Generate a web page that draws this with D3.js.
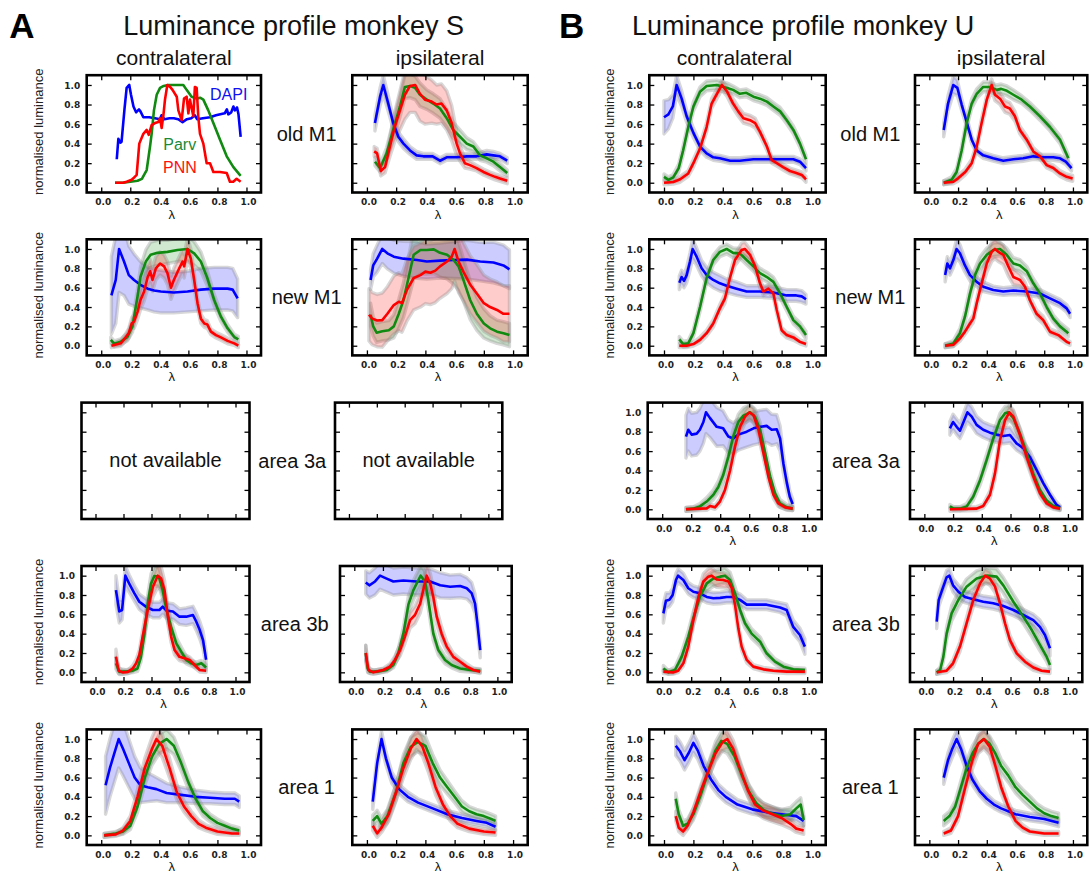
<!DOCTYPE html>
<html>
<head>
<meta charset="utf-8">
<script src="https://cdn.jsdelivr.net/npm/d3@7"></script>
<style>
  body { margin: 0; background: #fff; }
  svg { display: block; }
</style>
</head>
<body>
<svg id="fig" width="1090" height="873"></svg>
<script>
// ---------------------------------------------------------------------------
// Luminance profiles along the normalised cortical depth (lambda).
// Each point: [lambda, mean normalised luminance, spread of the band]
// ---------------------------------------------------------------------------

const channelNames = ["DAPI", "Parv", "PNN"];
const tickVals = [0, 0.2, 0.4, 0.6, 0.8, 1.0];
const tickText = ["0.0", "0.2", "0.4", "0.6", "0.8", "1.0"];
const rowNames = ["old M1", "new M1", "area 3a", "area 3b", "area 1"];
const sideNames = ["contralateral", "ipsilateral"];
const monkeyTitles = ["Luminance profile monkey S", "Luminance profile monkey U"];
const panelLetters = ["A", "B"];

// ---- monkey S, old M1 (single section, no spread) ----
const sOldM1ContraDapi = [[0.107,0.24],[0.118,0.45],[0.132,0.41],[0.14,0.42],[0.16,0.75],[0.175,0.97],[0.193,1.0],[0.205,0.9],[0.222,0.78],[0.24,0.72],[0.26,0.75],[0.27,0.73],[0.29,0.67],[0.33,0.67],[0.37,0.66],[0.405,0.65],[0.415,0.69],[0.435,0.65],[0.47,0.66],[0.5,0.66],[0.53,0.65],[0.56,0.62],[0.59,0.65],[0.62,0.66],[0.645,0.69],[0.66,0.65],[0.7,0.66],[0.75,0.67],[0.79,0.69],[0.82,0.7],[0.85,0.71],[0.865,0.75],[0.875,0.7],[0.895,0.72],[0.91,0.78],[0.92,0.74],[0.935,0.77],[0.945,0.7],[0.96,0.47]];
const sOldM1ContraParv = [[0.095,0.0],[0.15,0.0],[0.2,0.01],[0.25,0.02],[0.28,0.04],[0.313,0.13],[0.336,0.37],[0.347,0.5],[0.363,0.74],[0.382,0.9],[0.405,0.97],[0.43,0.99],[0.46,1.0],[0.52,1.0],[0.565,1.0],[0.588,0.95],[0.622,0.88],[0.657,0.86],[0.68,0.87],[0.703,0.85],[0.737,0.74],[0.772,0.61],[0.818,0.44],[0.864,0.27],[0.91,0.16],[0.96,0.07]];
const sOldM1ContraPnn = [[0.095,0.0],[0.15,0.0],[0.175,0.01],[0.21,0.03],[0.221,0.045],[0.244,0.08],[0.262,0.4],[0.29,0.5],[0.313,0.54],[0.327,0.49],[0.347,0.59],[0.37,0.61],[0.393,0.62],[0.405,0.66],[0.416,0.56],[0.428,0.69],[0.439,0.85],[0.455,1.0],[0.474,0.98],[0.491,0.95],[0.52,0.88],[0.531,0.74],[0.554,0.64],[0.57,0.86],[0.588,0.88],[0.6,0.71],[0.611,0.85],[0.634,0.68],[0.645,0.98],[0.657,0.97],[0.668,0.68],[0.68,0.5],[0.703,0.4],[0.726,0.2],[0.749,0.2],[0.772,0.11],[0.818,0.11],[0.864,0.1],[0.886,0.01],[0.909,0.01],[0.932,0.04],[0.96,0.01]];

const sOldM1IpsiDapi = [[0.055,0.61,0.08],[0.09,0.88,0.09],[0.112,1.0,0.1],[0.146,0.81,0.08],[0.18,0.61,0.06],[0.215,0.47,0.05],[0.25,0.4,0.05],[0.295,0.33,0.04],[0.34,0.28,0.04],[0.386,0.27,0.03],[0.45,0.27,0.03],[0.5,0.225,0.03],[0.546,0.26,0.03],[0.614,0.26,0.03],[0.683,0.27,0.03],[0.75,0.27,0.03],[0.82,0.29,0.04],[0.865,0.28,0.04],[0.91,0.27,0.03],[0.96,0.225,0.03]];
const sOldM1IpsiParv = [[0.055,0.215,0.04],[0.09,0.15,0.04],[0.135,0.3,0.06],[0.18,0.54,0.09],[0.226,0.78,0.11],[0.26,0.98,0.12],[0.295,0.99,0.12],[0.33,0.97,0.12],[0.363,0.9,0.12],[0.41,0.85,0.1],[0.454,0.81,0.1],[0.5,0.76,0.1],[0.546,0.66,0.09],[0.59,0.54,0.08],[0.637,0.47,0.07],[0.683,0.4,0.06],[0.728,0.37,0.05],[0.774,0.28,0.05],[0.82,0.25,0.04],[0.865,0.215,0.04],[0.91,0.16,0.04],[0.96,0.1,0.03]];
const sOldM1IpsiPnn = [[0.05,0.32,0.05],[0.07,0.3,0.05],[0.095,0.12,0.05],[0.124,0.16,0.06],[0.158,0.37,0.1],[0.19,0.57,0.15],[0.226,0.74,0.2],[0.26,0.9,0.25],[0.295,0.99,0.27],[0.33,1.0,0.28],[0.363,0.91,0.28],[0.397,0.85,0.25],[0.443,0.83,0.22],[0.477,0.8,0.2],[0.51,0.81,0.2],[0.546,0.74,0.2],[0.58,0.61,0.18],[0.614,0.4,0.12],[0.637,0.3,0.08],[0.67,0.2,0.05],[0.705,0.18,0.04],[0.75,0.15,0.03],[0.797,0.11,0.03],[0.843,0.08,0.03],[0.877,0.06,0.03],[0.91,0.044,0.03],[0.96,0.02,0.03]];

// ---- monkey S, new M1 ----
const sNewM1ContraDapi = [[0.07,0.52,0.4],[0.1,0.68,0.45],[0.123,1.0,0.45],[0.157,0.87,0.35],[0.19,0.73,0.3],[0.226,0.68,0.27],[0.27,0.63,0.24],[0.32,0.59,0.22],[0.364,0.57,0.22],[0.41,0.56,0.22],[0.5,0.55,0.21],[0.594,0.56,0.21],[0.686,0.58,0.22],[0.778,0.59,0.22],[0.87,0.59,0.22],[0.905,0.58,0.22],[0.939,0.49,0.2]];
const sNewM1ContraParv = [[0.066,0.06,0.03],[0.09,0.02,0.03],[0.134,0.04,0.03],[0.18,0.09,0.04],[0.215,0.2,0.06],[0.25,0.51,0.08],[0.27,0.71,0.1],[0.307,0.87,0.12],[0.34,0.94,0.13],[0.387,0.96,0.13],[0.456,0.97,0.12],[0.525,0.99,0.12],[0.594,1.0,0.13],[0.64,0.955,0.12],[0.686,0.87,0.1],[0.73,0.7,0.08],[0.778,0.47,0.06],[0.824,0.3,0.05],[0.87,0.18,0.04],[0.916,0.09,0.03],[0.944,0.065,0.03]];
const sNewM1ContraPnn = [[0.07,0.0,0.02],[0.134,0.025,0.03],[0.17,0.09,0.04],[0.19,0.13,0.05],[0.21,0.23,0.06],[0.226,0.25,0.07],[0.25,0.35,0.08],[0.27,0.47,0.1],[0.295,0.56,0.1],[0.32,0.71,0.12],[0.337,0.77,0.12],[0.353,0.68,0.12],[0.376,0.8,0.12],[0.405,0.85,0.12],[0.433,0.82,0.12],[0.456,0.75,0.12],[0.48,0.6,0.12],[0.5,0.68,0.12],[0.537,0.8,0.12],[0.56,0.87,0.12],[0.571,0.82,0.12],[0.594,1.0,0.12],[0.617,0.9,0.1],[0.64,0.68,0.08],[0.663,0.44,0.06],[0.686,0.28,0.05],[0.71,0.23,0.04],[0.73,0.22,0.04],[0.755,0.145,0.03],[0.79,0.11,0.03],[0.824,0.086,0.03],[0.87,0.05,0.03],[0.916,0.024,0.02],[0.944,0.0,0.02]];

const sNewM1IpsiDapi = [[0.025,0.68,0.1],[0.043,0.83,0.12],[0.07,0.9,0.14],[0.105,1.0,0.15],[0.14,0.955,0.16],[0.184,0.92,0.17],[0.25,0.9,0.18],[0.343,0.886,0.19],[0.41,0.87,0.18],[0.5,0.88,0.18],[0.593,0.886,0.19],[0.684,0.89,0.2],[0.775,0.87,0.2],[0.866,0.86,0.21],[0.934,0.83,0.21],[0.975,0.79,0.2]];
const sNewM1IpsiParv = [[0.025,0.32,0.12],[0.043,0.2,0.1],[0.066,0.135,0.1],[0.105,0.15,0.1],[0.15,0.16,0.1],[0.184,0.2,0.12],[0.218,0.33,0.15],[0.25,0.47,0.18],[0.286,0.71,0.22],[0.32,0.94,0.25],[0.366,0.99,0.25],[0.41,0.99,0.25],[0.457,0.996,0.25],[0.5,0.96,0.25],[0.548,0.94,0.25],[0.593,0.886,0.25],[0.627,0.82,0.25],[0.66,0.68,0.22],[0.707,0.47,0.2],[0.752,0.33,0.17],[0.8,0.23,0.15],[0.843,0.18,0.13],[0.89,0.145,0.12],[0.934,0.13,0.12],[0.975,0.11,0.12]];
const sNewM1IpsiPnn = [[0.014,0.32,0.27],[0.036,0.28,0.27],[0.07,0.26,0.27],[0.105,0.265,0.28],[0.14,0.33,0.28],[0.184,0.42,0.3],[0.218,0.455,0.3],[0.24,0.44,0.3],[0.275,0.58,0.32],[0.32,0.7,0.33],[0.366,0.73,0.33],[0.4,0.766,0.33],[0.434,0.755,0.33],[0.468,0.776,0.33],[0.5,0.82,0.33],[0.548,0.87,0.33],[0.58,0.92,0.33],[0.6,1.0,0.33],[0.627,0.87,0.32],[0.66,0.766,0.3],[0.707,0.63,0.3],[0.752,0.54,0.3],[0.8,0.44,0.29],[0.843,0.4,0.29],[0.89,0.37,0.29],[0.934,0.33,0.29],[0.975,0.33,0.29]];

// ---- monkey S, area 3b ----
const sArea3bContraDapi = [[0.146,0.85,0.15],[0.17,0.63,0.12],[0.19,0.645,0.1],[0.213,1.0,0.1],[0.24,0.92,0.09],[0.277,0.82,0.08],[0.313,0.73,0.08],[0.36,0.68,0.08],[0.41,0.645,0.08],[0.457,0.645,0.08],[0.48,0.68,0.08],[0.505,0.64,0.08],[0.553,0.63,0.08],[0.6,0.576,0.08],[0.648,0.576,0.09],[0.696,0.593,0.09],[0.72,0.524,0.09],[0.744,0.44,0.09],[0.768,0.334,0.09],[0.79,0.13,0.08]];
const sArea3bContraParv = [[0.146,0.093,0.06],[0.17,0.007,0.03],[0.218,0.007,0.02],[0.266,0.017,0.02],[0.3,0.04,0.03],[0.325,0.16,0.05],[0.35,0.4,0.07],[0.373,0.71,0.09],[0.397,0.92,0.1],[0.42,0.996,0.1],[0.452,0.99,0.1],[0.48,0.85,0.09],[0.505,0.66,0.08],[0.54,0.47,0.07],[0.577,0.3,0.06],[0.612,0.214,0.05],[0.648,0.128,0.04],[0.684,0.093,0.03],[0.72,0.076,0.03],[0.756,0.093,0.03],[0.79,0.05,0.03]];
const sArea3bContraPnn = [[0.146,0.16,0.08],[0.165,0.017,0.03],[0.194,0.0,0.02],[0.23,0.005,0.02],[0.266,0.04,0.03],[0.29,0.093,0.04],[0.313,0.18,0.05],[0.337,0.37,0.07],[0.373,0.645,0.09],[0.41,0.886,0.11],[0.445,1.0,0.12],[0.469,0.97,0.12],[0.493,0.85,0.1],[0.517,0.576,0.08],[0.54,0.37,0.06],[0.565,0.23,0.05],[0.6,0.16,0.04],[0.636,0.145,0.04],[0.672,0.128,0.03],[0.708,0.076,0.03],[0.744,0.024,0.02],[0.79,0.017,0.02]];

const sArea3bIpsiDapi = [[0.08,0.93,0.12],[0.105,0.9,0.13],[0.145,0.94,0.14],[0.18,1.0,0.14],[0.226,0.97,0.14],[0.273,0.94,0.14],[0.343,0.95,0.14],[0.436,0.94,0.14],[0.53,0.94,0.13],[0.6,0.9,0.13],[0.67,0.886,0.12],[0.74,0.893,0.12],[0.786,0.87,0.11],[0.82,0.82,0.11],[0.844,0.71,0.1],[0.86,0.51,0.09],[0.88,0.23,0.08]];
const sArea3bIpsiParv = [[0.08,0.2,0.08],[0.093,0.04,0.04],[0.11,0.007,0.02],[0.156,0.007,0.02],[0.226,0.024,0.02],[0.273,0.076,0.03],[0.308,0.2,0.05],[0.343,0.4,0.07],[0.378,0.7,0.09],[0.413,0.85,0.1],[0.448,0.955,0.1],[0.464,1.0,0.1],[0.494,0.94,0.1],[0.517,0.75,0.09],[0.552,0.4,0.07],[0.587,0.23,0.05],[0.634,0.128,0.04],[0.68,0.076,0.03],[0.74,0.04,0.03],[0.81,0.024,0.02],[0.88,0.017,0.02]];
const sArea3bIpsiPnn = [[0.08,0.2,0.08],[0.098,0.024,0.03],[0.133,0.0,0.02],[0.203,0.024,0.02],[0.25,0.059,0.03],[0.284,0.128,0.04],[0.32,0.23,0.06],[0.354,0.37,0.07],[0.39,0.54,0.08],[0.424,0.593,0.09],[0.46,0.71,0.1],[0.487,0.886,0.11],[0.506,1.0,0.12],[0.53,0.92,0.11],[0.552,0.78,0.1],[0.576,0.576,0.08],[0.61,0.4,0.07],[0.646,0.266,0.05],[0.692,0.16,0.04],[0.74,0.11,0.03],[0.786,0.059,0.03],[0.832,0.024,0.02],[0.88,0.007,0.02]];

// ---- monkey S, area 1 ----
const sArea1ContraDapi = [[0.03,0.52,0.3],[0.06,0.7,0.3],[0.09,0.85,0.3],[0.12,1.0,0.3],[0.15,0.9,0.28],[0.19,0.75,0.25],[0.23,0.6,0.22],[0.27,0.52,0.18],[0.32,0.5,0.15],[0.38,0.48,0.12],[0.45,0.44,0.1],[0.55,0.42,0.08],[0.65,0.4,0.07],[0.75,0.39,0.06],[0.85,0.38,0.06],[0.92,0.38,0.06],[0.95,0.35,0.06]];
const sArea1ContraParv = [[0.02,0.0,0.02],[0.1,0.02,0.02],[0.15,0.04,0.03],[0.2,0.1,0.04],[0.25,0.3,0.06],[0.3,0.6,0.08],[0.35,0.82,0.09],[0.4,0.95,0.1],[0.45,1.0,0.1],[0.5,0.93,0.09],[0.55,0.75,0.08],[0.6,0.55,0.07],[0.65,0.38,0.06],[0.7,0.25,0.05],[0.75,0.18,0.04],[0.8,0.13,0.04],[0.85,0.1,0.03],[0.9,0.07,0.03],[0.95,0.05,0.03]];
const sArea1ContraPnn = [[0.02,0.0,0.02],[0.1,0.01,0.02],[0.15,0.05,0.03],[0.2,0.15,0.05],[0.25,0.4,0.08],[0.3,0.7,0.1],[0.35,0.9,0.12],[0.38,1.0,0.12],[0.42,0.93,0.12],[0.47,0.7,0.1],[0.52,0.45,0.08],[0.57,0.3,0.06],[0.62,0.2,0.05],[0.67,0.12,0.04],[0.72,0.08,0.03],[0.8,0.04,0.03],[0.9,0.02,0.02],[0.95,0.02,0.02]];

const sArea1IpsiDapi = [[0.04,0.35,0.08],[0.07,0.75,0.08],[0.1,1.0,0.08],[0.13,0.8,0.07],[0.17,0.6,0.06],[0.22,0.48,0.05],[0.28,0.4,0.05],[0.35,0.34,0.04],[0.45,0.28,0.04],[0.55,0.22,0.04],[0.65,0.18,0.04],[0.75,0.15,0.04],[0.82,0.13,0.04],[0.88,0.09,0.04]];
const sArea1IpsiParv = [[0.04,0.15,0.06],[0.07,0.2,0.06],[0.1,0.12,0.06],[0.14,0.2,0.07],[0.2,0.45,0.08],[0.25,0.75,0.09],[0.3,0.92,0.1],[0.35,0.97,0.1],[0.4,0.93,0.1],[0.45,0.75,0.09],[0.5,0.6,0.08],[0.55,0.5,0.07],[0.6,0.4,0.06],[0.65,0.3,0.06],[0.7,0.25,0.05],[0.75,0.22,0.05],[0.8,0.2,0.05],[0.85,0.17,0.05],[0.88,0.15,0.05]];
const sArea1IpsiPnn = [[0.04,0.1,0.05],[0.07,0.02,0.04],[0.1,0.08,0.05],[0.15,0.22,0.07],[0.2,0.45,0.09],[0.25,0.7,0.1],[0.3,0.9,0.11],[0.34,1.0,0.11],[0.38,0.92,0.1],[0.42,0.75,0.09],[0.47,0.5,0.08],[0.52,0.32,0.06],[0.57,0.2,0.05],[0.62,0.12,0.04],[0.7,0.07,0.03],[0.8,0.04,0.03],[0.88,0.03,0.03]];

// ---- monkey U, old M1 ----
const uOldM1ContraDapi = [[0.0,0.67,0.17],[0.03,0.7,0.15],[0.06,0.78,0.12],[0.086,1.0,0.1],[0.12,0.86,0.08],[0.154,0.68,0.06],[0.2,0.51,0.05],[0.245,0.37,0.04],[0.29,0.3,0.04],[0.335,0.26,0.03],[0.38,0.25,0.03],[0.45,0.225,0.03],[0.516,0.225,0.03],[0.608,0.24,0.03],[0.7,0.24,0.03],[0.79,0.24,0.03],[0.88,0.24,0.03],[0.925,0.215,0.03],[0.966,0.15,0.03]];
const uOldM1ContraParv = [[0.0,0.06,0.03],[0.03,0.03,0.03],[0.063,0.055,0.03],[0.1,0.15,0.04],[0.13,0.33,0.05],[0.165,0.57,0.05],[0.2,0.78,0.05],[0.245,0.93,0.05],[0.29,0.99,0.05],[0.36,1.0,0.05],[0.43,0.97,0.05],[0.47,0.95,0.04],[0.516,0.91,0.04],[0.56,0.92,0.04],[0.608,0.88,0.04],[0.653,0.86,0.04],[0.7,0.83,0.04],[0.744,0.78,0.04],[0.79,0.73,0.04],[0.835,0.64,0.04],[0.88,0.54,0.04],[0.925,0.4,0.04],[0.966,0.24,0.04]];
const uOldM1ContraPnn = [[0.0,0.0,0.02],[0.063,0.007,0.02],[0.11,0.035,0.03],[0.165,0.095,0.03],[0.2,0.2,0.04],[0.245,0.35,0.04],[0.29,0.57,0.05],[0.324,0.81,0.05],[0.36,0.91,0.05],[0.394,1.0,0.05],[0.43,0.93,0.05],[0.47,0.81,0.05],[0.505,0.73,0.05],[0.54,0.66,0.05],[0.585,0.64,0.05],[0.62,0.61,0.05],[0.653,0.52,0.04],[0.7,0.37,0.04],[0.733,0.23,0.03],[0.767,0.2,0.03],[0.81,0.16,0.03],[0.857,0.12,0.03],[0.9,0.1,0.03],[0.937,0.08,0.03],[0.966,0.035,0.03]];

const uOldM1IpsiDapi = [[0.1,0.54,0.07],[0.13,0.81,0.08],[0.167,1.0,0.09],[0.195,0.97,0.08],[0.225,0.8,0.06],[0.26,0.62,0.05],[0.295,0.44,0.04],[0.33,0.33,0.03],[0.375,0.28,0.03],[0.445,0.25,0.03],[0.515,0.225,0.03],[0.585,0.24,0.03],[0.654,0.25,0.03],[0.724,0.27,0.03],[0.793,0.26,0.03],[0.863,0.26,0.03],[0.91,0.25,0.03],[0.95,0.215,0.03],[0.99,0.15,0.03]];
const uOldM1IpsiParv = [[0.1,0.0,0.02],[0.155,0.03,0.03],[0.19,0.11,0.04],[0.225,0.33,0.05],[0.26,0.61,0.05],[0.295,0.81,0.05],[0.33,0.91,0.05],[0.375,0.98,0.05],[0.42,0.98,0.05],[0.47,0.95,0.05],[0.5,0.96,0.05],[0.54,0.94,0.05],[0.585,0.9,0.05],[0.643,0.85,0.04],[0.7,0.78,0.04],[0.77,0.68,0.04],[0.84,0.57,0.04],[0.91,0.44,0.04],[0.968,0.25,0.04]];
const uOldM1IpsiPnn = [[0.1,0.0,0.02],[0.167,0.01,0.02],[0.2,0.045,0.03],[0.25,0.11,0.03],[0.295,0.2,0.04],[0.33,0.37,0.04],[0.364,0.61,0.05],[0.4,0.85,0.05],[0.434,1.0,0.06],[0.457,0.9,0.06],[0.492,0.86,0.06],[0.527,0.78,0.06],[0.56,0.76,0.06],[0.596,0.68,0.05],[0.63,0.54,0.04],[0.678,0.44,0.04],[0.724,0.32,0.04],[0.77,0.27,0.03],[0.817,0.18,0.03],[0.863,0.15,0.03],[0.91,0.095,0.03],[0.956,0.06,0.03],[0.998,0.044,0.03]];

// ---- monkey U, new M1 ----
const uNewM1ContraDapi = [[0.104,0.65,0.07],[0.12,0.71,0.07],[0.136,0.67,0.07],[0.154,0.73,0.08],[0.177,0.87,0.09],[0.195,1.0,0.1],[0.222,0.92,0.09],[0.256,0.8,0.08],[0.29,0.73,0.08],[0.335,0.68,0.08],[0.38,0.645,0.08],[0.426,0.62,0.07],[0.494,0.59,0.07],[0.562,0.56,0.06],[0.653,0.56,0.06],[0.744,0.55,0.06],[0.835,0.52,0.06],[0.9,0.52,0.06],[0.937,0.51,0.06],[0.966,0.48,0.05]];
const uNewM1ContraParv = [[0.104,0.065,0.03],[0.13,0.017,0.03],[0.165,0.024,0.03],[0.2,0.13,0.04],[0.245,0.4,0.05],[0.29,0.7,0.05],[0.335,0.886,0.05],[0.38,0.97,0.05],[0.426,1.0,0.05],[0.47,0.96,0.05],[0.516,0.955,0.05],[0.562,0.886,0.05],[0.608,0.82,0.05],[0.653,0.75,0.05],[0.7,0.71,0.05],[0.744,0.66,0.05],[0.79,0.54,0.05],[0.835,0.4,0.04],[0.88,0.265,0.04],[0.925,0.2,0.04],[0.966,0.11,0.04]];
const uNewM1ContraPnn = [[0.104,0.0,0.02],[0.154,0.0,0.02],[0.2,0.017,0.02],[0.245,0.06,0.03],[0.29,0.13,0.03],[0.335,0.23,0.04],[0.38,0.386,0.04],[0.415,0.49,0.05],[0.45,0.71,0.05],[0.483,0.886,0.06],[0.528,0.99,0.07],[0.55,1.0,0.07],[0.585,0.94,0.06],[0.62,0.82,0.05],[0.653,0.645,0.05],[0.676,0.56,0.04],[0.71,0.59,0.04],[0.744,0.54,0.04],[0.767,0.37,0.04],[0.8,0.16,0.03],[0.835,0.11,0.03],[0.88,0.086,0.03],[0.925,0.04,0.02],[0.966,0.017,0.02]];

const uNewM1IpsiDapi = [[0.11,0.73,0.07],[0.125,0.85,0.07],[0.144,0.8,0.07],[0.167,0.886,0.08],[0.19,1.0,0.1],[0.213,0.955,0.09],[0.248,0.83,0.07],[0.283,0.73,0.06],[0.33,0.66,0.05],[0.376,0.61,0.05],[0.445,0.576,0.04],[0.515,0.56,0.04],[0.585,0.57,0.04],[0.678,0.56,0.04],[0.77,0.54,0.04],[0.84,0.49,0.04],[0.91,0.44,0.04],[0.956,0.386,0.04],[0.98,0.33,0.04]];
const uNewM1IpsiParv = [[0.11,0.0,0.02],[0.167,0.024,0.03],[0.213,0.13,0.05],[0.248,0.3,0.06],[0.283,0.54,0.07],[0.318,0.73,0.07],[0.353,0.85,0.07],[0.4,0.94,0.07],[0.445,0.99,0.07],[0.492,1.0,0.07],[0.538,0.94,0.07],[0.585,0.85,0.06],[0.631,0.83,0.06],[0.678,0.77,0.05],[0.724,0.645,0.05],[0.77,0.54,0.05],[0.817,0.4,0.05],[0.863,0.28,0.04],[0.91,0.2,0.04],[0.968,0.13,0.04]];
const uNewM1IpsiPnn = [[0.11,0.0,0.02],[0.167,0.01,0.02],[0.213,0.076,0.03],[0.248,0.145,0.03],[0.283,0.23,0.04],[0.306,0.28,0.04],[0.33,0.44,0.05],[0.364,0.645,0.07],[0.4,0.85,0.09],[0.434,0.97,0.1],[0.457,1.0,0.1],[0.48,0.97,0.1],[0.515,0.94,0.1],[0.55,0.82,0.1],[0.585,0.71,0.08],[0.631,0.68,0.06],[0.666,0.61,0.05],[0.7,0.47,0.04],[0.747,0.33,0.04],[0.793,0.265,0.04],[0.84,0.145,0.03],[0.898,0.11,0.03],[0.956,0.04,0.02],[0.98,0.024,0.02]];

// ---- monkey U, area 3a ----
const uArea3aContraDapi = [[0.164,0.75,0.22],[0.18,0.82,0.22],[0.203,0.77,0.22],[0.238,0.78,0.22],[0.26,0.82,0.22],[0.284,0.9,0.22],[0.302,1.0,0.22],[0.33,0.94,0.2],[0.376,0.85,0.2],[0.42,0.835,0.18],[0.456,0.75,0.17],[0.49,0.73,0.16],[0.525,0.77,0.16],[0.583,0.8,0.16],[0.63,0.835,0.17],[0.675,0.85,0.17],[0.72,0.86,0.17],[0.755,0.82,0.16],[0.79,0.825,0.15],[0.813,0.73,0.13],[0.836,0.47,0.1],[0.86,0.27,0.08],[0.88,0.13,0.06],[0.9,0.055,0.05]];
const uArea3aContraParv = [[0.164,0.0,0.02],[0.215,0.007,0.02],[0.26,0.03,0.03],[0.307,0.08,0.04],[0.353,0.15,0.05],[0.387,0.23,0.06],[0.42,0.35,0.07],[0.456,0.54,0.08],[0.49,0.75,0.08],[0.525,0.9,0.08],[0.56,0.966,0.08],[0.606,1.0,0.08],[0.64,0.955,0.08],[0.675,0.82,0.08],[0.71,0.58,0.07],[0.744,0.34,0.06],[0.778,0.165,0.05],[0.813,0.06,0.04],[0.86,0.02,0.03],[0.9,0.007,0.02]];
const uArea3aContraPnn = [[0.164,0.0,0.02],[0.26,0.007,0.02],[0.307,0.01,0.02],[0.33,0.034,0.02],[0.364,0.02,0.02],[0.398,0.08,0.03],[0.433,0.2,0.05],[0.468,0.4,0.06],[0.502,0.646,0.07],[0.537,0.85,0.07],[0.571,0.955,0.07],[0.601,1.0,0.07],[0.63,0.97,0.07],[0.664,0.82,0.07],[0.698,0.58,0.06],[0.732,0.34,0.05],[0.767,0.15,0.04],[0.8,0.06,0.03],[0.848,0.02,0.02],[0.9,0.007,0.02]];

const uArea3aIpsiDapi = [[0.178,0.835,0.07],[0.2,0.9,0.08],[0.225,0.85,0.08],[0.248,0.81,0.08],[0.27,0.89,0.09],[0.3,1.0,0.1],[0.33,0.955,0.1],[0.364,0.87,0.09],[0.41,0.82,0.08],[0.457,0.79,0.08],[0.503,0.77,0.08],[0.55,0.756,0.08],[0.596,0.766,0.08],[0.642,0.68,0.07],[0.689,0.63,0.07],[0.735,0.54,0.06],[0.782,0.405,0.05],[0.828,0.27,0.04],[0.875,0.15,0.03],[0.921,0.045,0.03],[0.945,0.02,0.02]];
const uArea3aIpsiParv = [[0.178,0.03,0.02],[0.2,0.01,0.02],[0.248,0.007,0.02],[0.295,0.03,0.03],[0.34,0.13,0.04],[0.388,0.3,0.05],[0.434,0.51,0.06],[0.48,0.73,0.06],[0.527,0.92,0.07],[0.562,0.99,0.07],[0.585,1.0,0.07],[0.62,0.94,0.07],[0.666,0.78,0.06],[0.712,0.58,0.06],[0.758,0.37,0.05],[0.805,0.2,0.04],[0.852,0.09,0.03],[0.898,0.034,0.02],[0.945,0.01,0.02]];
const uArea3aIpsiPnn = [[0.178,0.0,0.02],[0.364,0.007,0.02],[0.41,0.034,0.02],[0.457,0.15,0.04],[0.492,0.37,0.06],[0.527,0.715,0.07],[0.562,0.92,0.07],[0.592,1.0,0.07],[0.62,0.955,0.07],[0.666,0.766,0.06],[0.712,0.54,0.06],[0.758,0.34,0.05],[0.805,0.165,0.04],[0.852,0.06,0.03],[0.898,0.02,0.02],[0.945,0.007,0.02]];

// ---- monkey U, area 3b ----
const uArea3bContraDapi = [[0.008,0.61,0.1],[0.026,0.74,0.08],[0.05,0.75,0.07],[0.072,0.8,0.07],[0.095,0.955,0.07],[0.11,1.0,0.07],[0.146,0.955,0.07],[0.18,0.87,0.06],[0.215,0.834,0.06],[0.26,0.817,0.06],[0.307,0.78,0.06],[0.353,0.766,0.06],[0.4,0.77,0.06],[0.445,0.78,0.06],[0.49,0.78,0.06],[0.537,0.75,0.06],[0.583,0.7,0.05],[0.628,0.7,0.05],[0.72,0.7,0.05],[0.813,0.67,0.05],[0.858,0.645,0.06],[0.904,0.47,0.07],[0.95,0.386,0.07],[0.984,0.266,0.08]];
const uArea3bContraParv = [[0.008,0.04,0.03],[0.042,0.0,0.02],[0.088,0.024,0.03],[0.134,0.16,0.05],[0.18,0.37,0.06],[0.215,0.56,0.07],[0.26,0.78,0.07],[0.307,0.92,0.08],[0.353,0.97,0.08],[0.4,0.99,0.08],[0.433,1.0,0.08],[0.468,0.955,0.08],[0.502,0.817,0.07],[0.537,0.645,0.06],[0.571,0.507,0.05],[0.617,0.4,0.05],[0.675,0.317,0.05],[0.72,0.197,0.04],[0.778,0.11,0.03],[0.836,0.059,0.03],[0.904,0.031,0.02],[0.984,0.024,0.02]];
const uArea3bContraPnn = [[0.008,0.007,0.02],[0.077,0.0,0.02],[0.11,0.017,0.02],[0.146,0.093,0.03],[0.18,0.266,0.05],[0.215,0.54,0.06],[0.25,0.78,0.07],[0.284,0.94,0.08],[0.318,0.99,0.08],[0.34,1.0,0.08],[0.376,0.96,0.08],[0.42,0.955,0.08],[0.456,0.94,0.07],[0.48,0.87,0.07],[0.502,0.7,0.06],[0.525,0.455,0.05],[0.548,0.266,0.04],[0.583,0.128,0.03],[0.628,0.059,0.02],[0.698,0.031,0.02],[0.767,0.017,0.02],[0.858,0.007,0.02],[0.984,0.007,0.02]];

const uArea3bIpsiDapi = [[0.086,0.524,0.07],[0.1,0.75,0.07],[0.132,0.886,0.07],[0.155,0.983,0.07],[0.174,1.0,0.07],[0.2,0.9,0.07],[0.237,0.834,0.07],[0.283,0.78,0.06],[0.341,0.755,0.06],[0.41,0.73,0.06],[0.48,0.714,0.06],[0.55,0.686,0.06],[0.62,0.645,0.06],[0.689,0.593,0.06],[0.759,0.54,0.06],[0.805,0.47,0.07],[0.84,0.386,0.07],[0.875,0.25,0.08]];
const uArea3bIpsiParv = [[0.086,0.0,0.02],[0.11,0.024,0.03],[0.132,0.16,0.05],[0.155,0.4,0.07],[0.19,0.61,0.08],[0.237,0.75,0.08],[0.294,0.886,0.08],[0.364,0.97,0.08],[0.434,1.0,0.08],[0.503,0.99,0.08],[0.55,0.9,0.08],[0.62,0.73,0.08],[0.689,0.576,0.07],[0.747,0.44,0.07],[0.805,0.283,0.06],[0.852,0.16,0.05],[0.875,0.076,0.04]];
const uArea3bIpsiPnn = [[0.086,0.0,0.02],[0.155,0.017,0.02],[0.2,0.093,0.04],[0.248,0.266,0.05],[0.294,0.507,0.06],[0.341,0.75,0.07],[0.388,0.92,0.07],[0.423,1.0,0.07],[0.457,0.97,0.07],[0.492,0.886,0.06],[0.527,0.714,0.06],[0.562,0.507,0.05],[0.596,0.334,0.05],[0.643,0.197,0.04],[0.701,0.11,0.03],[0.759,0.05,0.03],[0.817,0.017,0.02],[0.875,0.007,0.02]];

// ---- monkey U, area 1 ----
const uArea1ContraDapi = [[0.08,0.93,0.1],[0.11,0.87,0.1],[0.14,0.78,0.1],[0.17,0.86,0.1],[0.2,0.96,0.1],[0.23,0.88,0.09],[0.27,0.72,0.08],[0.32,0.58,0.07],[0.37,0.47,0.06],[0.42,0.4,0.06],[0.5,0.32,0.05],[0.6,0.27,0.05],[0.7,0.24,0.05],[0.8,0.22,0.05],[0.9,0.2,0.05],[0.95,0.15,0.05]];
const uArea1ContraParv = [[0.08,0.38,0.06],[0.1,0.22,0.05],[0.13,0.1,0.05],[0.16,0.12,0.05],[0.2,0.22,0.06],[0.25,0.42,0.07],[0.3,0.66,0.08],[0.35,0.88,0.09],[0.39,0.98,0.1],[0.43,0.95,0.1],[0.48,0.82,0.09],[0.53,0.62,0.08],[0.58,0.45,0.07],[0.63,0.33,0.07],[0.68,0.26,0.07],[0.73,0.23,0.07],[0.8,0.2,0.07],[0.86,0.22,0.07],[0.9,0.28,0.07],[0.93,0.32,0.07],[0.95,0.16,0.06]];
const uArea1ContraPnn = [[0.08,0.2,0.05],[0.1,0.08,0.04],[0.13,0.04,0.04],[0.16,0.1,0.04],[0.2,0.24,0.05],[0.25,0.46,0.06],[0.3,0.66,0.07],[0.35,0.85,0.08],[0.4,0.97,0.09],[0.43,1.0,0.1],[0.47,0.9,0.09],[0.52,0.68,0.08],[0.57,0.47,0.07],[0.62,0.32,0.08],[0.67,0.26,0.08],[0.72,0.23,0.08],[0.8,0.18,0.07],[0.86,0.12,0.05],[0.9,0.07,0.04],[0.95,0.05,0.04]];

const uArea1IpsiDapi = [[0.1,0.6,0.07],[0.13,0.78,0.08],[0.16,0.9,0.09],[0.19,1.0,0.09],[0.22,0.9,0.08],[0.26,0.72,0.07],[0.3,0.58,0.06],[0.35,0.46,0.05],[0.4,0.38,0.05],[0.45,0.32,0.04],[0.5,0.28,0.04],[0.6,0.22,0.04],[0.7,0.19,0.04],[0.8,0.17,0.04],[0.9,0.13,0.04]];
const uArea1IpsiParv = [[0.1,0.15,0.05],[0.14,0.2,0.05],[0.18,0.3,0.06],[0.22,0.5,0.07],[0.26,0.7,0.08],[0.3,0.85,0.08],[0.34,0.95,0.08],[0.38,1.0,0.08],[0.42,0.95,0.08],[0.46,0.85,0.08],[0.5,0.72,0.07],[0.55,0.62,0.07],[0.6,0.5,0.06],[0.65,0.42,0.06],[0.7,0.35,0.06],[0.75,0.28,0.05],[0.8,0.23,0.05],[0.85,0.2,0.05],[0.9,0.18,0.05]];
const uArea1IpsiPnn = [[0.1,0.02,0.02],[0.15,0.05,0.03],[0.2,0.2,0.05],[0.25,0.5,0.08],[0.3,0.78,0.09],[0.34,0.95,0.1],[0.38,1.0,0.1],[0.42,0.92,0.09],[0.46,0.72,0.08],[0.5,0.5,0.07],[0.55,0.3,0.05],[0.6,0.15,0.04],[0.65,0.08,0.03],[0.7,0.04,0.02],[0.8,0.02,0.02],[0.9,0.02,0.02]];

// ---------------------------------------------------------------------------
// Figure layout
// ---------------------------------------------------------------------------
const lamDomain = [-0.1, 1.1];
const lumDomain = [-0.1, 1.1];
const channelColors = ["#0000ff", "#108a10", "#ff0000"];

// top / bottom edge of each row of axes
const rowBox = [[75.2, 192.5], [239.3, 355.4], [402.6, 519.0], [566.0, 682.0], [729.4, 845.0]];
// left / right edge of each axes, by monkey, row and side
const colBox = {
  S: [
    [[86.7, 261.0], [352.3, 527.7]],
    [[86.7, 261.0], [352.3, 527.7]],
    [[81.5, 249.5], [335.0, 502.3]],
    [[81.5, 249.5], [340.0, 511.7]],
    [[86.7, 261.0], [352.3, 527.7]]
  ],
  U: [
    [[649.3, 825.7], [915.0, 1087.3]],
    [[649.3, 825.7], [915.0, 1087.3]],
    [[647.7, 821.7], [910.0, 1082.3]],
    [[647.7, 821.7], [910.0, 1082.3]],
    [[649.3, 825.7], [915.0, 1087.3]]
  ]
};

const panels = [
  { m: "S", row: 0, side: 0, series: [sOldM1ContraDapi, sOldM1ContraParv, sOldM1ContraPnn], bands: false, legend: true },
  { m: "S", row: 0, side: 1, series: [sOldM1IpsiDapi, sOldM1IpsiParv, sOldM1IpsiPnn], bands: true },
  { m: "S", row: 1, side: 0, series: [sNewM1ContraDapi, sNewM1ContraParv, sNewM1ContraPnn], bands: true },
  { m: "S", row: 1, side: 1, series: [sNewM1IpsiDapi, sNewM1IpsiParv, sNewM1IpsiPnn], bands: true },
  { m: "S", row: 2, side: 0, series: null },
  { m: "S", row: 2, side: 1, series: null },
  { m: "S", row: 3, side: 0, series: [sArea3bContraDapi, sArea3bContraParv, sArea3bContraPnn], bands: true },
  { m: "S", row: 3, side: 1, series: [sArea3bIpsiDapi, sArea3bIpsiParv, sArea3bIpsiPnn], bands: true },
  { m: "S", row: 4, side: 0, series: [sArea1ContraDapi, sArea1ContraParv, sArea1ContraPnn], bands: true },
  { m: "S", row: 4, side: 1, series: [sArea1IpsiDapi, sArea1IpsiParv, sArea1IpsiPnn], bands: true },
  { m: "U", row: 0, side: 0, series: [uOldM1ContraDapi, uOldM1ContraParv, uOldM1ContraPnn], bands: true },
  { m: "U", row: 0, side: 1, series: [uOldM1IpsiDapi, uOldM1IpsiParv, uOldM1IpsiPnn], bands: true },
  { m: "U", row: 1, side: 0, series: [uNewM1ContraDapi, uNewM1ContraParv, uNewM1ContraPnn], bands: true },
  { m: "U", row: 1, side: 1, series: [uNewM1IpsiDapi, uNewM1IpsiParv, uNewM1IpsiPnn], bands: true },
  { m: "U", row: 2, side: 0, series: [uArea3aContraDapi, uArea3aContraParv, uArea3aContraPnn], bands: true, noYLabel: true },
  { m: "U", row: 2, side: 1, series: [uArea3aIpsiDapi, uArea3aIpsiParv, uArea3aIpsiPnn], bands: true },
  { m: "U", row: 3, side: 0, series: [uArea3bContraDapi, uArea3bContraParv, uArea3bContraPnn], bands: true },
  { m: "U", row: 3, side: 1, series: [uArea3bIpsiDapi, uArea3bIpsiParv, uArea3bIpsiPnn], bands: true },
  { m: "U", row: 4, side: 0, series: [uArea1ContraDapi, uArea1ContraParv, uArea1ContraPnn], bands: true },
  { m: "U", row: 4, side: 1, series: [uArea1IpsiDapi, uArea1IpsiParv, uArea1IpsiPnn], bands: true }
];

const svg = d3.select("#fig");
const textFont = "'Liberation Sans', Arial, Helvetica, sans-serif";
const tickFont = "'DejaVu Sans', Verdana, sans-serif";
const defs = svg.append("defs");

function drawPanel(p, idx) {
  const [x0, x1] = colBox[p.m][p.row][p.side];
  const [y0, y1] = rowBox[p.row];
  const x = d3.scaleLinear().domain(lamDomain).range([x0, x1]);
  const y = d3.scaleLinear().domain(lumDomain).range([y1, y0]);
  const g = svg.append("g").attr("class", "panel");

  const clipId = "clip" + idx;
  defs.append("clipPath").attr("id", clipId)
    .append("rect").attr("x", x0).attr("y", y0).attr("width", x1 - x0).attr("height", y1 - y0);
  const plot = g.append("g").attr("clip-path", `url(#${clipId})`);

  if (p.series) {
    if (p.bands) {
      const band = d3.area()
        .x(d => x(d[0]))
        .y0(d => y(d[1] - d[2]))
        .y1(d => y(d[1] + d[2]))
        .curve(d3.curveLinear);
      p.series.forEach((s, i) => {
        plot.append("path").datum(s)
          .attr("d", band)
          .attr("fill", channelColors[i])
          .attr("fill-opacity", 0.2)
          .attr("stroke", "#8a8a8a")
          .attr("stroke-opacity", 0.33)
          .attr("stroke-width", 3.4)
          .attr("stroke-linejoin", "round");
      });
    }
    const line = d3.line().x(d => x(d[0])).y(d => y(d[1])).curve(d3.curveLinear);
    p.series.forEach((s, i) => {
      plot.append("path").datum(s)
        .attr("d", line)
        .attr("fill", "none")
        .attr("stroke", channelColors[i])
        .attr("stroke-width", 2.6)
        .attr("stroke-linejoin", "round")
        .attr("stroke-linecap", "butt");
    });
  }

  const labelled = p.series !== null;
  const showYTicks = labelled && p.side === 0;

  // inward ticks on all four sides
  const axes = [
    { ax: d3.axisBottom(x), tr: `translate(0,${y1})`, text: labelled },
    { ax: d3.axisTop(x), tr: `translate(0,${y0})`, text: false },
    { ax: d3.axisLeft(y), tr: `translate(${x0},0)`, text: showYTicks },
    { ax: d3.axisRight(y), tr: `translate(${x1},0)`, text: false }
  ];
  axes.forEach((a, k) => {
    a.ax.tickValues(tickVals).tickSize(-5).tickFormat((d, i) => a.text ? tickText[i] : "");
    const ag = g.append("g").attr("transform", a.tr).call(a.ax);
    ag.select(".domain").remove();
    ag.selectAll(".tick line").attr("stroke", "#000").attr("stroke-width", 1.3);
    ag.selectAll(".tick text")
      .attr("font-family", tickFont)
      .attr("font-weight", "bold")
      .attr("font-size", 9)
      .attr("fill", "#222");
    if (k === 0) {
      ag.selectAll(".tick text").attr("y", 12.8).attr("dy", null).attr("dx", 1.5);
    }
    if (k === 2) {
      ag.selectAll(".tick text").attr("x", -6.5).attr("dy", "0.35em");
    }
  });

  // frame
  g.append("rect")
    .attr("x", x0).attr("y", y0).attr("width", x1 - x0).attr("height", y1 - y0)
    .attr("fill", "none").attr("stroke", "#000").attr("stroke-width", 2.6);

  if (labelled) {
    g.append("text")
      .attr("x", (x0 + x1) / 2 - 2).attr("y", y1 + 26)
      .attr("text-anchor", "middle")
      .attr("font-family", textFont).attr("font-size", 13).attr("fill", "#111")
      .text("λ");
  }
  if (showYTicks && !p.noYLabel) {
    const lx = p.m === "S" ? 38.5 : 609;
    const ly = (y0 + y1) / 2 - 2;
    g.append("text")
      .attr("transform", `translate(${lx},${ly}) rotate(-90)`)
      .attr("text-anchor", "middle").attr("dy", "0.35em")
      .attr("font-family", textFont).attr("font-size", 13).attr("fill", "#222")
      .text("normalised luminance");
  }
  if (!labelled) {
    g.append("text")
      .attr("x", (x0 + x1) / 2).attr("y", (y0 + y1) / 2 + 6)
      .attr("text-anchor", "middle")
      .attr("font-family", textFont).attr("font-size", 20).attr("fill", "#111")
      .text("not available");
  }
  if (p.legend) {
    const legendPos = [[210, 100], [163.3, 150], [163, 173.3]];
    const legendColors = ["#1010f0", "#1a8a3a", "#ff1010"];
    channelNames.forEach((n, i) => {
      g.append("text")
        .attr("x", legendPos[i][0]).attr("y", legendPos[i][1])
        .attr("font-family", textFont).attr("font-size", 16)
        .attr("fill", legendColors[i])
        .text(n);
    });
  }
}

panels.forEach(drawPanel);

// row names between the two sides of each monkey
["S", "U"].forEach(m => {
  rowNames.forEach((name, r) => {
    const left = colBox[m][r][0][1];
    const right = colBox[m][r][1][0];
    const [y0, y1] = rowBox[r];
    svg.append("text")
      .attr("x", (left + right) / 2).attr("y", (y0 + y1) / 2 + 7)
      .attr("text-anchor", "middle")
      .attr("font-family", textFont).attr("font-size", 20).attr("fill", "#111")
      .text(name);
  });
  // side headers above the first row
  sideNames.forEach((name, s) => {
    const [a, b] = colBox[m][0][s];
    svg.append("text")
      .attr("x", (a + b) / 2 - (m === "U" && s === 0 ? 3 : 0)).attr("y", 64.5)
      .attr("text-anchor", "middle")
      .attr("font-family", textFont).attr("font-size", 21).attr("fill", "#111")
      .text(name);
  });
});

// monkey titles and panel letters
const titleX = [123.3, 632];
const letterX = [9.3, 559];
monkeyTitles.forEach((t, i) => {
  svg.append("text")
    .attr("x", titleX[i]).attr("y", 35)
    .attr("font-family", textFont).attr("font-size", 27).attr("fill", "#111")
    .text(t);
  svg.append("text")
    .attr("x", letterX[i]).attr("y", 38.3)
    .attr("font-family", textFont).attr("font-size", 35).attr("font-weight", "bold").attr("fill", "#000")
    .text(panelLetters[i]);
});
</script>
</body>
</html>
